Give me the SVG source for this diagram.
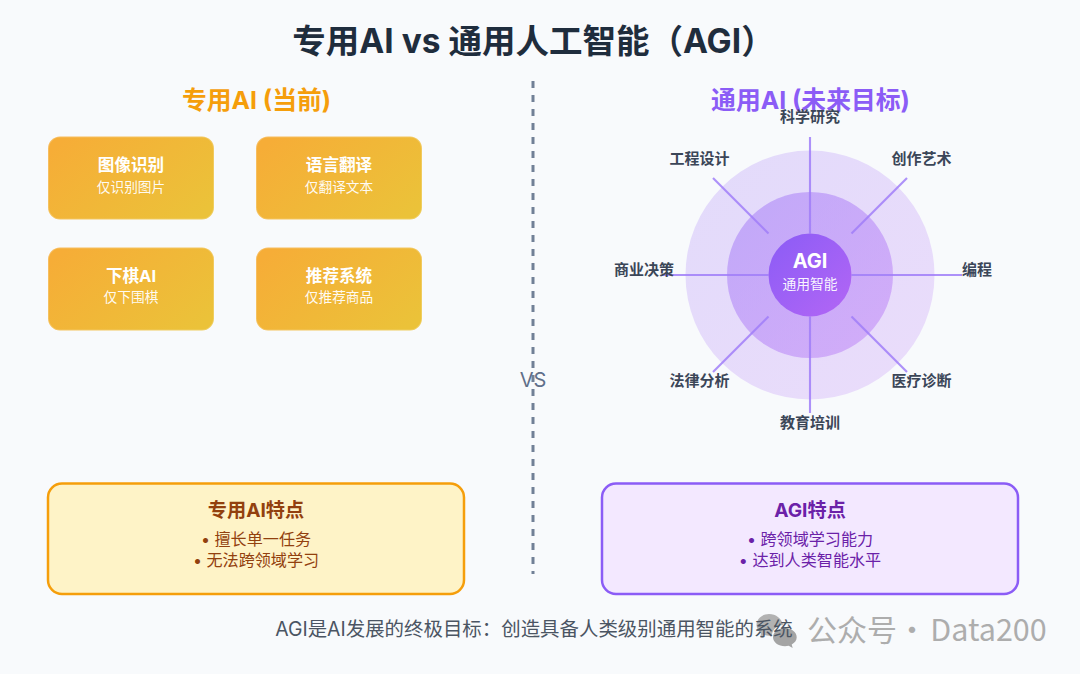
<svg xmlns="http://www.w3.org/2000/svg" width="1080" height="674" viewBox="0 0 1080 674">
<style>
text{font-family:Inter,"Noto Sans CJK SC","Noto Sans",sans-serif;text-anchor:middle}
.b{font-weight:700}
.card{fill:url(#o);stroke:#fff;stroke-opacity:.2;stroke-width:2}
.ct{font-size:16.6px;font-weight:700;fill:#fff}
.cs{font-size:13.7px;fill:#fff;fill-opacity:.95}
.sp{stroke:#a07ef8;stroke-width:2.1;stroke-opacity:.85}
.lb{font-size:15px;font-weight:700;fill:#3b4658}
</style>
<defs>
<linearGradient id="o" x1="0" y1="0.2" x2="1" y2="0.8"><stop offset="0" stop-color="#f6ad37"/><stop offset="1" stop-color="#ebc239"/></linearGradient>
<linearGradient id="c1" x1="0" y1="0" x2="1" y2="1"><stop offset="0" stop-color="#8b5cf6"/><stop offset="1" stop-color="#b366f5"/></linearGradient>
</defs>
<rect width="1080" height="674" fill="#f8fafc"/>
<text x="533.500" y="53" class="b" font-size="33.500" fill="#1f2d3d">专用AI vs 通用人工智能（AGI）</text>
<text x="256.500" y="109" class="b" font-size="24.800" fill="#f59e0b">专用AI (当前)</text>
<text x="810.500" y="109" class="b" font-size="24.800" fill="#8b5cf6">通用AI (未来目标)</text>
<g id="divider"><line x1="533" y1="81" x2="533" y2="574" stroke="#718096" stroke-width="3" stroke-dasharray="7 7"/><text x="533" y="387" font-size="20" fill="#5f6f8a">VS</text></g>
<g id="n1"><rect class="card" x="48" y="136.500" width="166" height="83" rx="12"/><text class="ct" x="131" y="171">图像识别</text><text class="cs" x="131" y="192">仅识别图片</text></g>
<g id="n2"><rect class="card" x="256" y="136.500" width="166" height="83" rx="12"/><text class="ct" x="339" y="171">语言翻译</text><text class="cs" x="339" y="192">仅翻译文本</text></g>
<g id="n3"><rect class="card" x="48" y="247.500" width="166" height="83" rx="12"/><text class="ct" x="131" y="282">下棋AI</text><text class="cs" x="131" y="302">仅下围棋</text></g>
<g id="n4"><rect class="card" x="256" y="247.500" width="166" height="83" rx="12"/><text class="ct" x="339" y="282">推荐系统</text><text class="cs" x="339" y="302">仅推荐商品</text></g>
<g id="agi-rings"><circle cx="810" cy="275" r="124.500" fill="url(#c1)" fill-opacity=".2"/><circle cx="810" cy="275" r="83" fill="url(#c1)" fill-opacity=".4"/></g>
<g id="connectors">
<line class="sp" x1="810" y1="233.500" x2="810" y2="137"/>
<line class="sp" x1="810" y1="316.500" x2="810" y2="413"/>
<line class="sp" x1="768.500" y1="275" x2="662" y2="275"/>
<line class="sp" x1="851.500" y1="275" x2="962" y2="275"/>
<line class="sp" x1="768.500" y1="233.500" x2="713" y2="178"/>
<line class="sp" x1="851.500" y1="233.500" x2="907" y2="178"/>
<line class="sp" x1="768.500" y1="316.500" x2="713" y2="372"/>
<line class="sp" x1="851.500" y1="316.500" x2="907" y2="372"/>
</g>
<g id="agi"><circle cx="810" cy="275" r="41.500" fill="url(#c1)"/><text x="810" y="268" class="b" font-size="20" fill="#fff">AGI</text><text x="810" y="289" font-size="13.800" fill="#fff" fill-opacity=".95">通用智能</text></g>
<g id="labels">
<text class="lb" x="810" y="122">科学研究</text>
<text class="lb" x="699.500" y="164">工程设计</text>
<text class="lb" x="921.500" y="164">创作艺术</text>
<text class="lb" x="644" y="275">商业决策</text>
<text class="lb" x="977" y="275">编程</text>
<text class="lb" x="699.500" y="386">法律分析</text>
<text class="lb" x="921.500" y="386">医疗诊断</text>
<text class="lb" x="810" y="428">教育培训</text>
</g>
<g id="box-left"><rect x="48" y="483.500" width="416" height="110.500" rx="14" fill="#fef3c7" stroke="#f59e0b" stroke-width="2.500"/><text x="256" y="517" class="b" font-size="19.200" fill="#92400e">专用AI特点</text><text x="256" y="545" font-size="16.100" fill="#92400e">• 擅长单一任务</text><text x="256" y="566" font-size="16.100" fill="#92400e">• 无法跨领域学习</text></g>
<g id="box-right"><rect x="602" y="483.500" width="416" height="110.500" rx="14" fill="#f3e8ff" stroke="#8b5cf6" stroke-width="2.500"/><text x="810" y="517" class="b" font-size="19.200" fill="#6b21a8">AGI特点</text><text x="810" y="545" font-size="16.100" fill="#6b21a8">• 跨领域学习能力</text><text x="810" y="566" font-size="16.100" fill="#6b21a8">• 达到人类智能水平</text></g>
<g id="watermark"><path d="M769 614c-7 0-12.500 5-12.500 11 0 3.500 2 6.500 4.500 8.500l-1 4 4.500-2.500c1.500.5 3 .7 4.500.7 1 0 2 0 3-.3 0-6 5-10 11-10.500-1-6-7-10.900-14-10.900z" fill="#b2b2b2"/><path d="M785 628c-6.500 0-12 4-12 9.200 0 5 5.500 9 12 9 1.300 0 2.500-.2 3.700-.5l4 2.300-1-3.500c3-1.700 5-4.300 5-7.300 0-5.200-5.500-9.200-11.700-9.200z" fill="#a4a4a4"/><text font-size="30" fill="#adadad" style="font-family:'Noto Sans CJK SC',sans-serif"><tspan x="852" y="641">公众号</tspan><tspan x="912" y="641">·</tspan><tspan x="988.500" y="641" font-size="30.500">Data200</tspan></text></g>
<text x="534" y="636" font-size="19.450" fill="#4b5563">AGI是AI发展的终极目标：创造具备人类级别通用智能的系统</text>
</svg>
